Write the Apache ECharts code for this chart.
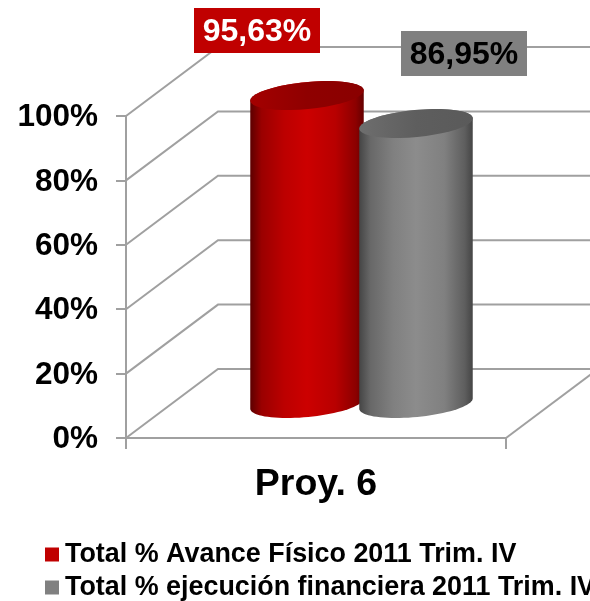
<!DOCTYPE html>
<html>
<head>
<meta charset="utf-8">
<style>
  html, body { margin: 0; padding: 0; background: #fff; }
  #chart { width: 590px; height: 601px; }
</style>
</head>
<body>
<div id="chart"></div>
<script src="https://cdn.jsdelivr.net/npm/echarts@6/dist/echarts.min.js"></script>
<script>
const categories = ['Proy. 6']
const yTicks = [0, 20, 40, 60, 80, 100]
const seriesNames = ['Total % Avance Físico 2011 Trim. IV', 'Total % ejecución financiera 2011 Trim. IV']
const avanceFisico = [95.63]
const ejecucionFinanciera = [86.95]

const FONT = '"Liberation Sans", Arial, sans-serif'
const GRID_COLOR = '#a0a0a0'
const DEPTH = [92, -69]

const chart = echarts.init(document.getElementById('chart'), undefined, { renderer: 'canvas' })

function ellipsePoints(cx, cy, from, to) {
  const a = 57, b = 13.5, tilt = -5.5 * Math.PI / 180
  const pts = []
  for (let i = 0; i <= 40; i++) {
    const t = from + (to - from) * i / 40
    const x = a * Math.cos(t), y = b * Math.sin(t)
    pts.push([cx + x * Math.cos(tilt) - y * Math.sin(tilt), cy + x * Math.sin(tilt) + y * Math.cos(tilt)])
  }
  return pts
}

function gradient(stops) {
  return new echarts.graphic.LinearGradient(0, 0, 1, 0, stops.map(s => ({ offset: s[0], color: s[1] })))
}

function cylinder(opts) {
  return function (params, api) {
    const cat = api.value(0), val = api.value(1)
    const top = api.coord([cat, val])
    const base = api.coord([cat, 0])
    const cx = top[0] + DEPTH[0] / 2 + opts.shift
    const topY = top[1] + DEPTH[1] / 2
    const baseY = base[1] + DEPTH[1] / 2
    const body = ellipsePoints(cx, baseY, 0, Math.PI).concat(ellipsePoints(cx, topY, Math.PI, 2 * Math.PI))
    const lx = cx + opts.labelOffset[0], ly = topY + opts.labelOffset[1]
    return {
      type: 'group',
      children: [
        { type: 'polygon', shape: { points: body }, style: { fill: gradient(opts.side) } },
        { type: 'polygon', shape: { points: ellipsePoints(cx, topY, 0, 2 * Math.PI) }, style: { fill: gradient(opts.cap) } },
        { type: 'rect', shape: { x: lx - 63, y: ly - 22.5, width: 126, height: 45 }, style: { fill: opts.labelBg } },
        {
          type: 'text',
          x: lx,
          y: ly + 1.5,
          style: {
            text: val.toFixed(2).replace('.', ',') + '%',
            font: 'bold 32px ' + FONT,
            fill: opts.labelColor,
            align: 'center',
            verticalAlign: 'middle'
          }
        }
      ]
    }
  }
}

// grid lines of the 3D walls, one per y tick
function wallLine(params, api) {
  const val = api.value(1)
  const sys = params.coordSys
  const y = api.coord([0, val])[1]
  const bx = sys.x + DEPTH[0], by = y + DEPTH[1]
  const lineStyle = { stroke: GRID_COLOR, lineWidth: 2, fill: null }
  const children = [
    { type: 'polyline', shape: { points: [[sys.x, y], [bx, by], [api.getWidth(), by]] }, style: lineStyle }
  ]
  if (val === 0) {
    const rx = sys.x + sys.width
    children.push({ type: 'line', shape: { x1: rx, y1: y, x2: rx + DEPTH[0], y2: by }, style: lineStyle })
  }
  return { type: 'group', children }
}

chart.setOption({
  animation: false,
  backgroundColor: '#fff',
  grid: { left: 126, right: 84, top: 116, bottom: 163 },
  legend: {
    data: seriesNames,
    orient: 'vertical',
    left: 45,
    top: 541,
    padding: 0,
    icon: 'rect',
    itemWidth: 14,
    itemHeight: 14,
    itemGap: 6,
    selectedMode: false,
    textStyle: { fontFamily: FONT, fontWeight: 'bold', fontSize: 26.9, color: '#000', padding: [0, 0, 0, 1] }
  },
  xAxis: {
    type: 'category',
    data: categories,
    axisLine: { lineStyle: { color: GRID_COLOR, width: 2 } },
    axisTick: { show: true, length: 11, lineStyle: { color: GRID_COLOR, width: 2 } },
    axisLabel: { fontFamily: FONT, fontWeight: 'bold', fontSize: 37.5, color: '#000', margin: 28 }
  },
  yAxis: {
    type: 'value',
    min: 0,
    max: 100,
    interval: 20,
    splitLine: { show: false },
    axisLine: { show: true, lineStyle: { color: GRID_COLOR, width: 2 } },
    axisTick: { show: true, length: 10, lineStyle: { color: GRID_COLOR, width: 2 } },
    axisLabel: { fontFamily: FONT, fontWeight: 'bold', fontSize: 31.5, color: '#000', margin: 28, verticalAlign: 'top', lineHeight: 3, formatter: '{value}%' }
  },
  series: [
    {
      type: 'custom',
      silent: true,
      renderItem: wallLine,
      data: yTicks.map(t => [0, t]),
      encode: { x: 0, y: 1 },
      z: 1
    },
    {
      type: 'custom',
      name: seriesNames[0],
      itemStyle: { color: '#c00000' },
      renderItem: cylinder({
        shift: -55,
        side: [[0, '#5c0000'], [0.1, '#9a0000'], [0.3, '#bc0000'], [0.5, '#cc0000'], [0.75, '#b80000'], [0.93, '#8c0000'], [1, '#640000']],
        cap: [[0, '#a40000'], [0.5, '#8f0000'], [1, '#8a0000']],
        labelOffset: [-50, -65],
        labelColor: '#fff',
        labelBg: '#c00000'
      }),
      data: avanceFisico.map((v, i) => [i, v]),
      encode: { x: 0, y: 1 },
      z: 2
    },
    {
      type: 'custom',
      name: seriesNames[1],
      itemStyle: { color: '#808080' },
      renderItem: cylinder({
        shift: 54,
        side: [[0, '#454545'], [0.1, '#686868'], [0.3, '#808080'], [0.5, '#8c8c8c'], [0.75, '#808080'], [0.93, '#5e5e5e'], [1, '#454545']],
        cap: [[0, '#6e6e6e'], [0.5, '#5e5e5e'], [1, '#5a5a5a']],
        labelOffset: [48, -70],
        labelColor: '#000',
        labelBg: '#808080'
      }),
      data: ejecucionFinanciera.map((v, i) => [i, v]),
      encode: { x: 0, y: 1 },
      z: 3
    }
  ]
})

window.addEventListener('resize', () => chart.resize())
</script>
</body>
</html>
